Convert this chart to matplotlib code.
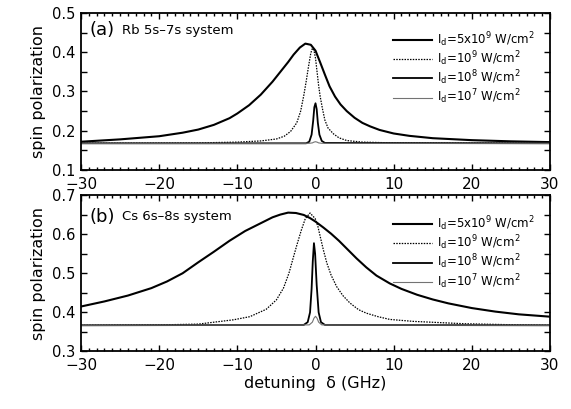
import numpy as np
import matplotlib
matplotlib.use("Agg")
import matplotlib.pyplot as plt
from matplotlib.ticker import MultipleLocator

plt.rcParams['font.family'] = ['DejaVu Sans']
plt.rcParams['mathtext.fontset'] = 'dejavusans'

# --- data (detuning in GHz, spin polarization) ---
# panel (a): Rb 5s-7s
a_5e9_x = [-30, -25, -20, -17, -15, -13, -11, -10, -8.5, -7, -5.5, -4.5, -3.5, -2.8, -2, -1.3, -0.6, 0,
           0.6, 1.2, 1.8, 2.5, 3.2, 4, 5, 6, 7, 8.2, 10, 12, 15, 20, 25, 30]
a_5e9_y = [0.172, 0.178, 0.186, 0.195, 0.203, 0.215, 0.232, 0.244, 0.265, 0.292, 0.325, 0.35, 0.375, 0.394,
           0.412, 0.422, 0.419, 0.404, 0.374, 0.343, 0.313, 0.287, 0.267, 0.25, 0.233, 0.22, 0.211, 0.202,
           0.193, 0.187, 0.181, 0.176, 0.173, 0.171]
a_1e9_x = [-30, -15, -10, -7, -5, -4, -3.2, -2.4, -1.9, -1.5, -1.2, -0.9, -0.6, -0.4, -0.2, 0, 0.2, 0.4,
           0.6, 0.9, 1.2, 1.6, 2.3, 3, 4, 6, 10, 30]
a_1e9_y = [0.168, 0.169, 0.171, 0.174, 0.179, 0.186, 0.198, 0.22, 0.25, 0.29, 0.325, 0.363, 0.398, 0.41,
           0.405, 0.385, 0.35, 0.315, 0.287, 0.255, 0.227, 0.207, 0.192, 0.182, 0.175, 0.171, 0.169, 0.168]
a_1e8_x = [-30, -1.2, -0.8, -0.5, -0.3, -0.15, 0, 0.15, 0.3, 0.5, 0.8, 1.2, 30]
a_1e8_y = [0.168, 0.168, 0.172, 0.19, 0.225, 0.26, 0.27, 0.255, 0.22, 0.19, 0.174, 0.169, 0.168]
a_1e7_x = [-30, -0.8, -0.4, -0.2, 0, 0.2, 0.4, 0.8, 30]
a_1e7_y = [0.168, 0.168, 0.169, 0.171, 0.172, 0.171, 0.169, 0.168, 0.168]

# panel (b): Cs 6s-8s
b_5e9_x = [-30, -27, -24, -21, -19, -17, -15, -13, -11, -9, -7, -5.5, -4.5, -3.5, -2.5, -1.5, -0.7, 0,
           1, 2, 3, 4, 5.25, 6.5, 7.8, 9.5, 11, 13, 15, 17, 20, 23, 26, 30]
b_5e9_y = [0.415, 0.428, 0.443, 0.462, 0.479, 0.5, 0.528, 0.555, 0.583, 0.608, 0.628, 0.643, 0.65, 0.655,
           0.654, 0.649, 0.641, 0.632, 0.617, 0.601, 0.583, 0.563, 0.538, 0.515, 0.494, 0.474, 0.46, 0.445,
           0.433, 0.423, 0.411, 0.402, 0.395, 0.389]
b_1e9_x = [-30, -20, -15, -10.5, -8.4, -6.3, -5, -4.1, -3.4, -2.8, -2.3, -1.8, -1.3, -0.7, -0.05, 0.3,
           0.6, 1.0, 1.45, 2, 2.7, 3.5, 4.4, 5.5, 6.5, 8, 9.5, 12.5, 19, 26, 30]
b_1e9_y = [0.367, 0.368, 0.37, 0.381, 0.389, 0.408, 0.432, 0.462, 0.5, 0.543, 0.578, 0.611, 0.64, 0.654,
           0.64, 0.62, 0.594, 0.56, 0.526, 0.495, 0.466, 0.443, 0.424, 0.407, 0.398, 0.389, 0.382, 0.377,
           0.371, 0.368, 0.367]
b_1e8_x = [-30, -1.5, -1, -0.7, -0.5, -0.35, -0.2, -0.05, 0.15, 0.4, 0.7, 1.2, 30]
b_1e8_y = [0.367, 0.368, 0.375, 0.40, 0.46, 0.53, 0.577, 0.55, 0.47, 0.40, 0.375, 0.368, 0.367]
b_1e7_x = [-30, -0.8, -0.4, -0.2, 0, 0.2, 0.4, 0.8, 30]
b_1e7_y = [0.367, 0.368, 0.375, 0.385, 0.39, 0.385, 0.375, 0.368, 0.367]

labels = [r'I$_{\rm d}$=5x10$^{9}$ W/cm$^{2}$', r'I$_{\rm d}$=10$^{9}$ W/cm$^{2}$',
          r'I$_{\rm d}$=10$^{8}$ W/cm$^{2}$', r'I$_{\rm d}$=10$^{7}$ W/cm$^{2}$']

fig = plt.figure(figsize=(5.71, 4.09), dpi=100)
ax_a = fig.add_axes([0.1419, 0.5844, 0.8213, 0.3838])
ax_b = fig.add_axes([0.1419, 0.1406, 0.8213, 0.3826])


def draw(ax, curves, ylim, tag, title, leg_y, tag_y):
    styles = [dict(color='black', lw=1.5, ls='-'),
              dict(color='black', lw=0.9, ls=(0, (1.2, 1.0))),
              dict(color='black', lw=1.3, ls='-'),
              dict(color='0.45', lw=0.8, ls='-')]
    for (x, y), st, lab in zip(curves, styles, labels):
        ax.plot(x, y, label=lab, **st)
    ax.set_xlim(-30, 30)
    ax.set_ylim(*ylim)
    ax.xaxis.set_major_locator(MultipleLocator(10))
    ax.xaxis.set_minor_locator(MultipleLocator(1))
    ax.yaxis.set_major_locator(MultipleLocator(0.1))
    ax.yaxis.set_minor_locator(MultipleLocator(0.05))
    ax.tick_params(which='both', direction='in', top=True, right=True, width=1.0)
    ax.tick_params(axis='x', labelsize=11, pad=5)
    ax.tick_params(axis='y', labelsize=10.5, pad=4)
    ax.tick_params(which='major', length=4)
    ax.tick_params(axis='x', which='minor', length=2)
    ax.tick_params(axis='y', which='minor', length=4)
    for s in ax.spines.values():
        s.set_linewidth(1.3)
    ax.set_ylabel('spin polarization', fontsize=11.5, labelpad=4)
    ax.text(0.019, tag_y, tag, transform=ax.transAxes, fontsize=13, va='center')
    ax.text(0.087, tag_y, title, transform=ax.transAxes, fontsize=9.5, va='center')
    ax.legend(loc='upper left', bbox_to_anchor=(0.665, leg_y), frameon=False, fontsize=8.5,
              handlelength=3.3, handletextpad=0.4, labelspacing=0.04, borderpad=0, borderaxespad=0)


draw(ax_a, [(a_5e9_x, a_5e9_y), (a_1e9_x, a_1e9_y), (a_1e8_x, a_1e8_y), (a_1e7_x, a_1e7_y)],
     (0.1, 0.5), '(a)', 'Rb 5s\u20137s system', 0.89, 0.89)
draw(ax_b, [(b_5e9_x, b_5e9_y), (b_1e9_x, b_1e9_y), (b_1e8_x, b_1e8_y), (b_1e7_x, b_1e7_y)],
     (0.3, 0.7), '(b)', 'Cs 6s\u20138s system', 0.876, 0.86)
ax_b.set_xlabel('detuning  \u03b4 (GHz)', fontsize=11.5, labelpad=2)

fig.savefig('out.png', dpi=100)
